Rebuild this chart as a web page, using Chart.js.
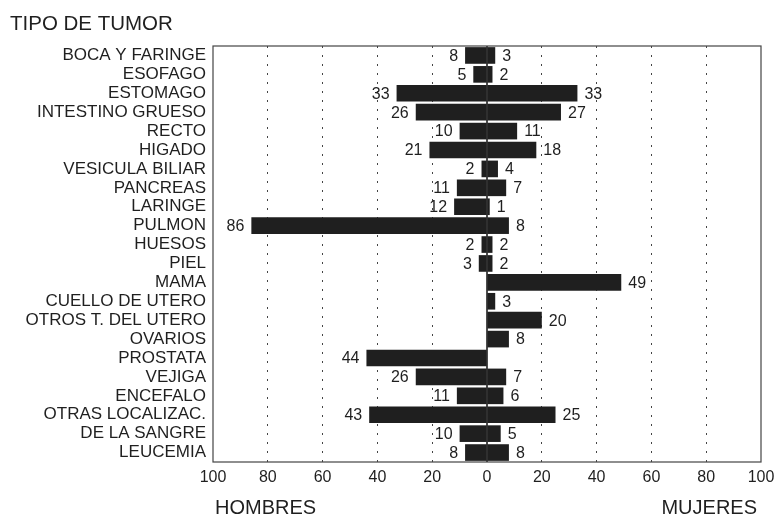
<!DOCTYPE html>
<html>
<head>
<meta charset="utf-8">
<script src="https://cdn.jsdelivr.net/npm/chart.js@4/dist/chart.umd.min.js"></script>
<style>
  html, body { margin: 0; padding: 0; background: #fff; }
  #wrap { width: 784px; height: 517px; position: relative; }
</style>
</head>
<body>
<div id="wrap"><canvas id="tumorChart"></canvas></div>
<script>
//<![CDATA[

let tumores = [
    'BOCA Y FARINGE', 'ESOFAGO', 'ESTOMAGO', 'INTESTINO GRUESO', 'RECTO',
    'HIGADO', 'VESICULA BILIAR', 'PANCREAS', 'LARINGE', 'PULMON', 'HUESOS',
    'PIEL', 'MAMA', 'CUELLO DE UTERO', 'OTROS T. DEL UTERO', 'OVARIOS',
    'PROSTATA', 'VEJIGA', 'ENCEFALO', 'OTRAS LOCALIZAC.', 'DE LA SANGRE', 'LEUCEMIA'
];
let hombres = [8, 5, 33, 26, 10, 21, 2, 11, 12, 86, 2, 3, 0, 0, 0, 0, 44, 26, 11, 43, 10, 8];
let mujeres = [3, 2, 33, 27, 11, 18, 4, 7, 1, 8, 2, 2, 49, 3, 20, 8, 0, 7, 6, 25, 5, 8];
let ticksX = [-100, -80, -60, -40, -20, 0, 20, 40, 60, 80, 100];

let inkColor = '#1f1f1f';
let fontFamily = 'Liberation Sans, Arial, sans-serif';

// valores, lineas y marco que Chart.js no dibuja solo
const extrasPlugin = {
    id: 'extras',
    afterDatasetsDraw(chart) {
        const ctx = chart.ctx;
        const area = chart.chartArea;
        const x = chart.scales.x;
        const y = chart.scales.y;
        ctx.save();

        // linea central en 0
        ctx.strokeStyle = '#111';
        ctx.lineWidth = 1.5;
        ctx.beginPath();
        ctx.moveTo(x.getPixelForValue(0), area.top);
        ctx.lineTo(x.getPixelForValue(0), area.bottom);
        ctx.stroke();

        // marco
        ctx.strokeStyle = '#444';
        ctx.lineWidth = 1.2;
        ctx.strokeRect(area.left, area.top, area.right - area.left, area.bottom - area.top);

        // etiquetas de valores
        ctx.fillStyle = inkColor;
        ctx.font = '16px ' + fontFamily;
        ctx.textBaseline = 'middle';
        for (let i = 0; i < tumores.length; i++) {
            const py = y.getPixelForValue(i) + 1;
            if (hombres[i] > 0) {
                ctx.textAlign = 'right';
                ctx.fillText(String(hombres[i]), x.getPixelForValue(-hombres[i]) - 7, py);
            }
            if (mujeres[i] > 0) {
                ctx.textAlign = 'left';
                ctx.fillText(String(mujeres[i]), x.getPixelForValue(mujeres[i]) + 7, py);
            }
        }

        // titulos
        ctx.font = '20.5px ' + fontFamily;
        ctx.textAlign = 'left';
        ctx.fillText('TIPO DE TUMOR', 10, 24);
        ctx.font = '20px ' + fontFamily;
        ctx.fillText('HOMBRES', 215, 508);
        ctx.textAlign = 'right';
        ctx.fillText('MUJERES', 757, 508);
        ctx.restore();
    }
};

const ctx = document.getElementById('tumorChart');
const tumorChart = new Chart(ctx, {
    type: 'bar',
    data: {
        labels: tumores,
        datasets: [
            {
                label: 'HOMBRES',
                data: hombres.map(v => -v),
                backgroundColor: inkColor,
                categoryPercentage: 1,
                barPercentage: 0.88
            },
            {
                label: 'MUJERES',
                data: mujeres,
                backgroundColor: inkColor,
                categoryPercentage: 1,
                barPercentage: 0.88
            }
        ]
    },
    options: {
        indexAxis: 'y',
        responsive: true,
        maintainAspectRatio: false,
        animation: false,
        layout: {
            padding: { top: 46, right: 23, left: 0, bottom: 0 }
        },
        plugins: {
            legend: { display: false },
            tooltip: { enabled: false }
        },
        scales: {
            x: {
                stacked: true,
                min: -100,
                max: 100,
                afterBuildTicks: scale => {
                    scale.ticks = ticksX.map(v => ({ value: v }));
                },
                afterFit: scale => { scale.height = 55; },
                ticks: {
                    color: inkColor,
                    font: { family: fontFamily, size: 16 },
                    padding: 6,
                    maxRotation: 0,
                    callback: v => Math.abs(v)
                },
                grid: {
                    drawTicks: false,
                    color: c => (c.tick && (c.tick.value === 0 || Math.abs(c.tick.value) === 100)) ? 'rgba(0,0,0,0)' : '#444',
                    lineWidth: 1
                },
                border: { display: false, dash: [2, 7] }
            },
            y: {
                stacked: true,
                afterFit: scale => { scale.width = 213; },
                ticks: {
                    color: inkColor,
                    font: { family: fontFamily, size: 17 },
                    padding: 7,
                    autoSkip: false
                },
                grid: { display: false, drawTicks: false },
                border: { display: false }
            }
        }
    },
    plugins: [extrasPlugin]
});

// ]]>
</script>
</body>
</html>
